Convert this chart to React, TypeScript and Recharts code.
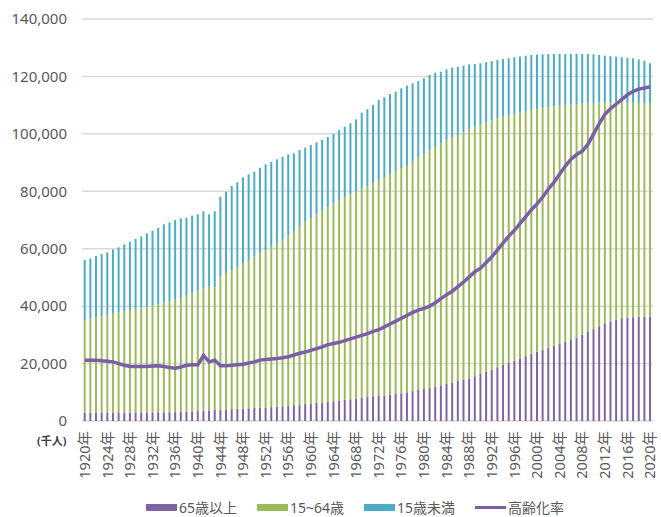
// Population by age group (stacked bars) with the ageing rate line on a hidden right axis.

import { ComposedChart, Bar, Line, XAxis, YAxis, CartesianGrid } from "recharts";

// ── Data (thousands of people / %) ───────────────────────────────────────────

const years = [
  1920, 1921, 1922, 1923, 1924, 1925, 1926, 1927, 1928, 1929,
  1930, 1931, 1932, 1933, 1934, 1935, 1936, 1937, 1938, 1939,
  1940, 1941, 1942, 1943, 1944, 1945, 1946, 1947, 1948, 1949,
  1950, 1951, 1952, 1953, 1954, 1955, 1956, 1957, 1958, 1959,
  1960, 1961, 1962, 1963, 1964, 1965, 1966, 1967, 1968, 1969,
  1970, 1971, 1972, 1973, 1974, 1975, 1976, 1977, 1978, 1979,
  1980, 1981, 1982, 1983, 1984, 1985, 1986, 1987, 1988, 1989,
  1990, 1991, 1992, 1993, 1994, 1995, 1996, 1997, 1998, 1999,
  2000, 2001, 2002, 2003, 2004, 2005, 2006, 2007, 2008, 2009,
  2010, 2011, 2012, 2013, 2014, 2015, 2016, 2017, 2018, 2019, 2020,
];

const age65 = [
  2900, 2900, 2900, 2910, 2920, 2930, 2940, 2950, 2960, 2970,
  2980, 3000, 3010, 3020, 3040, 3060, 3080, 3100, 3220, 3340,
  3460, 3580, 3700, 3830, 3930, 4030, 4130, 4230, 4330, 4430,
  4530, 4630, 4730, 4830, 4950, 5100, 5300, 5500, 5700, 5900,
  6100, 6300, 6500, 6700, 6900, 7100, 7310, 7570, 7830, 8100,
  8400, 8550, 8700, 8930, 9170, 9400, 9630, 10000, 10400, 10800,
  11200, 11580, 11950, 12400, 12900, 13400, 13900, 14400, 14860, 15600,
  16400, 17200, 17900, 18700, 19500, 20300, 21000, 21800, 22600, 23400,
  24140, 24800, 25500, 26200, 26800, 27500, 28200, 29000, 30000, 31000,
  32000, 33000, 34020, 34700, 35300, 35760, 36000, 36150, 36250, 36300, 36320,
];

const age15to64 = [
  32300, 32750, 33200, 33640, 34080, 34570, 34940, 35310, 35690, 36060,
  36440, 36800, 37270, 37750, 38210, 38670, 39140, 39600, 40360, 41110,
  41870, 42620, 43100, 42670, 46320, 47370, 48420, 49470, 50570, 51620,
  52670, 53720, 54770, 55820, 56850, 57900, 59300, 60700, 62100, 63500,
  64570, 65630, 66700, 67770, 68830, 69900, 70660, 71360, 72070, 72770,
  73430, 74250, 75160, 75990, 76810, 77630, 78460, 79150, 80010, 80870,
  81720, 82600, 83490, 84300, 84770, 85230, 85700, 86170, 86670, 86900,
  86850, 86800, 86850, 86800, 86480, 86170, 85950, 85630, 85320, 85000,
  84540, 84170, 83750, 83330, 83020, 82600, 82030, 81370, 80500, 79630,
  78770, 77900, 76880, 76200, 75550, 75090, 74800, 74650, 74500, 74400, 74380,
];

const under15 = [
  20870, 21000, 21360, 21610, 21740, 22280, 22600, 23260, 23800, 24350,
  24880, 25560, 26000, 26440, 27230, 27460, 27780, 27890, 27230, 27060,
  26640, 26830, 25170, 26530, 27870, 28460, 29290, 29420, 29900, 29850,
  29620, 29860, 29880, 29550, 29330, 29050, 28270, 27020, 26580, 25790,
  25450, 25120, 24660, 24430, 24220, 24340, 24530, 24740, 25160, 26510,
  26720, 27250, 27930, 27800, 27900, 27650, 27770, 27630, 27190, 26730,
  26430, 26310, 25860, 24950, 24800, 24410, 23790, 23170, 22670, 21820,
  21320, 20950, 20580, 20220, 20050, 19870, 19700, 19490, 19270, 19060,
  18920, 18730, 18550, 18270, 18030, 17700, 17620, 17530, 17350, 17170,
  16930, 16560, 16360, 16160, 16020, 15830, 15700, 15510, 15150, 14780, 13870,
];

// 高齢化率 (%)
const agingRate = [
  5.3, 5.3, 5.3, 5.25, 5.2, 5.15, 5.0, 4.85, 4.75, 4.75,
  4.75, 4.75, 4.78, 4.8, 4.75, 4.65, 4.6, 4.7, 4.85, 4.9,
  4.9, 5.7, 5.15, 5.3, 4.8, 4.8, 4.85, 4.9, 4.95, 5.05,
  5.15, 5.3, 5.35, 5.4, 5.45, 5.5, 5.6, 5.75, 5.9, 6.0,
  6.15, 6.3, 6.45, 6.65, 6.75, 6.85, 7.0, 7.15, 7.3, 7.45,
  7.6, 7.8, 7.95, 8.2, 8.45, 8.7, 8.95, 9.2, 9.45, 9.65,
  9.8, 10.0, 10.3, 10.65, 11.0, 11.3, 11.7, 12.1, 12.55, 13.0,
  13.3, 13.8, 14.3, 14.9, 15.5, 16.1, 16.6, 17.2, 17.8, 18.4,
  18.9, 19.5, 20.2, 20.8, 21.5, 22.2, 22.8, 23.2, 23.5, 24.1,
  25.0, 25.9, 26.7, 27.2, 27.6, 28.0, 28.4, 28.7, 28.9, 29.0, 29.1,
];

const yTicks = [0, 20000, 40000, 60000, 80000, 100000, 120000, 140000];

const COLORS = {
  age65: "#8064a2",
  age15to64: "#9bbb59",
  under15: "#4bacc6",
  rate: "#7b5ea7",
};

const FONT = "'Noto Sans', 'Noto Sans CJK JP', sans-serif";
const TEXT = "#595959";

const rows = years.map((y, i) => ({
  label: `${y}年`,
  age65: age65[i],
  age15to64: age15to64[i],
  under15: under15[i],
  rate: agingRate[i],
}));

// ── Rotated year tick ────────────────────────────────────────────────────────

function YearTick({ x, y, payload }: any) {
  return (
    <text
      x={x}
      y={y}
      dy="0.35em"
      textAnchor="end"
      fill={TEXT}
      fontSize={14.5}
      fontFamily={FONT}
      transform={`rotate(-90, ${x}, ${y})`}
    >
      {payload.value}
    </text>
  );
}

// ── Legend ───────────────────────────────────────────────────────────────────

function LegendRow() {
  const items = [
    { name: "65歳以上", color: COLORS.age65, kind: "rect" },
    { name: "15~64歳", color: COLORS.age15to64, kind: "rect" },
    { name: "15歳未満", color: COLORS.under15, kind: "rect" },
    { name: "高齢化率", color: COLORS.rate, kind: "line" },
  ];
  return (
    <div
      style={{
        position: "absolute",
        top: 497,
        left: 146,
        display: "flex",
        alignItems: "center",
        gap: 20,
        fontFamily: FONT,
        fontSize: 14,
        color: TEXT,
        whiteSpace: "nowrap",
      }}
    >
      {items.map((it) => (
        <div key={it.name} style={{ display: "flex", alignItems: "center", gap: 2 }}>
          <div
            style={{
              width: 31,
              height: it.kind === "rect" ? 7 : 3,
              backgroundColor: it.color,
            }}
          />
          <span>{it.name}</span>
        </div>
      ))}
    </div>
  );
}

// ── Main ─────────────────────────────────────────────────────────────────────

export default function App() {
  return (
    <div
      style={{
        position: "absolute",
        left: 0,
        top: 0,
        width: 661,
        height: 517,
        background: "#fff",
        fontFamily: FONT,
      }}
    >
      <ComposedChart
        width={661}
        height={517}
        data={rows}
        margin={{ top: 19, right: 8, bottom: 36, left: 0 }}
        barCategoryGap="30%"
      >
        <CartesianGrid vertical={false} stroke="#d9d9d9" strokeWidth={1.5} />
        <XAxis
          dataKey="label"
          interval={3}
          axisLine={false}
          tickLine={false}
          tickSize={0}
          tickMargin={10}
          height={60}
          tick={<YearTick />}
        />
        <YAxis
          domain={[0, 140000]}
          ticks={yTicks}
          width={82}
          axisLine={false}
          tickLine={false}
          tickSize={0}
          tickMargin={15}
          tickFormatter={(v: number) => v.toLocaleString("en-US")}
          tick={{ fontSize: 15, fill: TEXT, fontFamily: FONT }}
        />
        <YAxis yAxisId="rate" orientation="right" domain={[0, 35]} hide />
        <Bar dataKey="age65" name="65歳以上" stackId="pop" fill={COLORS.age65} isAnimationActive={false} />
        <Bar dataKey="age15to64" name="15~64歳" stackId="pop" fill={COLORS.age15to64} isAnimationActive={false} />
        <Bar dataKey="under15" name="15歳未満" stackId="pop" fill={COLORS.under15} isAnimationActive={false} />
        <Line
          yAxisId="rate"
          type="linear"
          dataKey="rate"
          name="高齢化率"
          stroke={COLORS.rate}
          strokeWidth={3.5}
          dot={false}
          isAnimationActive={false}
        />
      </ComposedChart>
      <div
        style={{
          position: "absolute",
          left: 37,
          top: 432,
          fontSize: 11,
          fontWeight: "bold",
          color: "#404040",
          fontFamily: FONT,
        }}
      >
        (千人)
      </div>
      <LegendRow />
    </div>
  );
}
